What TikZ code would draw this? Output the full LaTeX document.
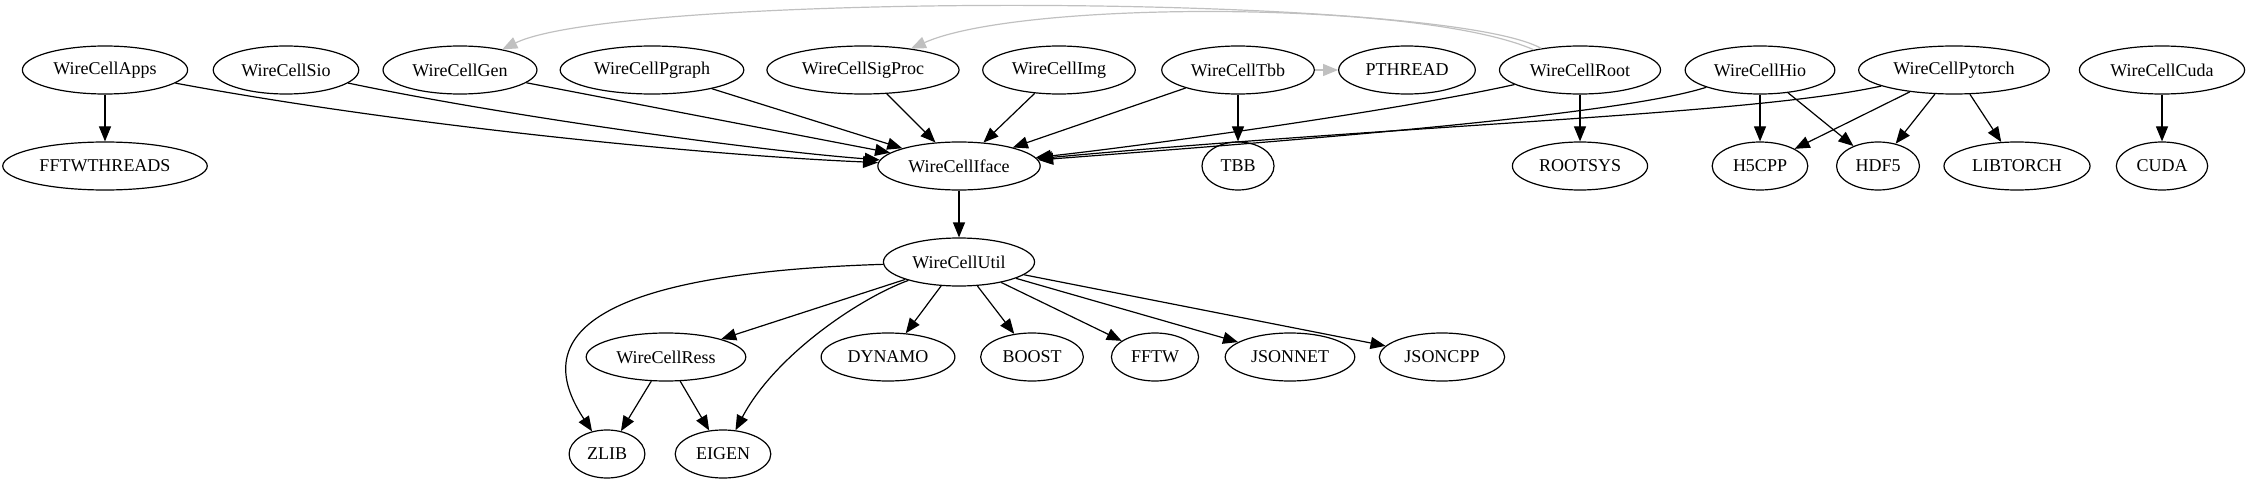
\documentclass[tikz,border=0pt]{standalone}
\usepackage{fontspec}
\setmainfont{Liberation Serif}
\usetikzlibrary{arrows.meta,shapes,positioning}
\definecolor{softgray}{RGB}{192,192,192}
\tikzset{
  pkg/.style  = {draw, ellipse, line width=0.6pt, inner xsep=3.4pt, inner ysep=2pt,
                 minimum width=36pt, minimum height=24pt, font=\fontsize{9}{10}\selectfont},
  dep/.style  = {->, line width=0.6pt},
  weak/.style = {dep, draw=softgray}
}

\begin{document}
\begin{tikzpicture}[x=0.5pt, y=0.5pt, node distance=48pt,
  >={Triangle[length=7.5pt,width=6pt]}]
\useasboundingbox (0,0) rectangle (2250,483);

% top row, the packages
\node[pkg] (apps)    at (105,413)  {WireCellApps};
\node[pkg] (sio)     at (286,413)  {WireCellSio};
\node[pkg] (gen)     at (460,413)  {WireCellGen};
\node[pkg] (pgraph)  at (652,413)  {WireCellPgraph};
\node[pkg] (sigproc) at (863,413)  {WireCellSigProc};
\node[pkg] (img)     at (1059,413) {WireCellImg};
\node[pkg] (tbb)     at (1238,413) {WireCellTbb};
\node[pkg] (pthread) at (1407,413) {PTHREAD};
\node[pkg] (root)    at (1580,413) {WireCellRoot};
\node[pkg] (hio)     at (1760,413) {WireCellHio};
\node[pkg] (pytorch) at (1954,413) {WireCellPytorch};
\node[pkg] (cuda)    at (2162,413) {WireCellCuda};

% second row
\node[pkg, below of = apps] (fftwthreads) {FFTWTHREADS};
\node[pkg] (iface) at (959,317) {WireCellIface};
\node[pkg, below of = tbb] (tbblib) {TBB};
\node[pkg, below of = root] (rootsys) {ROOTSYS};
\node[pkg, below of = hio] (h5cpp) {H5CPP};
\node[pkg] (hdf5) at (1878,317) {HDF5};
\node[pkg] (libtorch) at (2017,317) {LIBTORCH};
\node[pkg, below of = cuda] (cudalib) {CUDA};

% util and what it needs
\node[pkg, below of = iface] (util) {WireCellUtil};
\node[pkg] (ress)    at (666,126)  {WireCellRess};
\node[pkg] (dynamo)  at (888,126)  {DYNAMO};
\node[pkg] (boost)   at (1032,126) {BOOST};
\node[pkg] (fftw)    at (1155,126) {FFTW};
\node[pkg] (jsonnet) at (1290,126) {JSONNET};
\node[pkg] (jsoncpp) at (1442,126) {JSONCPP};
\node[pkg] (zlib)    at (607,29)   {ZLIB};
\node[pkg] (eigen)   at (723,29)   {EIGEN};

% everything goes into iface
\draw[dep] (apps) .. controls (400,358) and (700,328) .. (iface);
\draw[dep] (sio) .. controls (500,368) and (750,333) .. (iface);
\draw[dep] (gen) -- (iface);
\draw[dep] (pgraph) -- (iface);
\draw[dep] (sigproc) -- (iface);
\draw[dep] (img) -- (iface);
\draw[dep] (tbb) -- (iface);
\draw[dep] (root) .. controls (1400,373) and (1150,338) .. (iface);
\draw[dep] (hio) .. controls (1620,368) and (1300,343) .. (iface);
\draw[dep] (pytorch) .. controls (1750,368) and (1400,358) .. (iface);

% external libraries
\draw[dep] (apps) -- (fftwthreads);
\draw[dep] (tbb) -- (tbblib);
\draw[dep] (root) -- (rootsys);
\draw[dep] (hio) -- (h5cpp);
\draw[dep] (hio) -- (hdf5);
\draw[dep] (pytorch) -- (h5cpp);
\draw[dep] (pytorch) -- (hdf5);
\draw[dep] (pytorch) -- (libtorch);
\draw[dep] (cuda) -- (cudalib);

% the gray ones
\draw[weak] (tbb) -- (pthread);
\draw[weak] (root) .. controls (1440,491) and (620,491) .. (gen);
\draw[weak] (root) .. controls (1420,483) and (1020,483) .. (sigproc);

% util
\draw[dep] (iface) -- (util);
\draw[dep] (util) -- (ress);
\draw[dep] (util) .. controls (538,208) and (545,123) .. (zlib);
\draw[dep] (util) .. controls (860,185) and (775,128) .. (eigen);
\draw[dep] (util) -- (dynamo);
\draw[dep] (util) -- (boost);
\draw[dep] (util) -- (fftw);
\draw[dep] (util) -- (jsonnet);
\draw[dep] (util) -- (jsoncpp);
\draw[dep] (ress) -- (zlib);
\draw[dep] (ress) -- (eigen);
\end{tikzpicture}
\end{document}
